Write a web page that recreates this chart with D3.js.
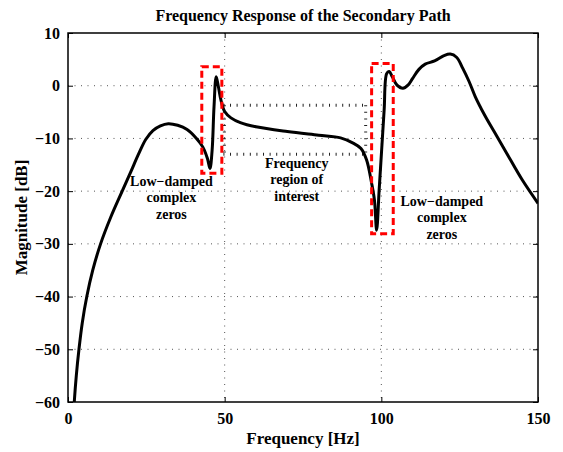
<!DOCTYPE html>
<html>
<head>
<meta charset="utf-8">
<script src="https://cdn.jsdelivr.net/npm/d3@7"></script>
<style>
  body { margin: 0; background: #fff; }
  text { font-family: "Liberation Serif", "Times New Roman", serif; font-weight: bold; fill: #000; }
</style>
</head>
<body>
<div id="chart-area"></div>
<script>
// frequency response (Hz, dB)
const freqs = [1.8, 2.0, 2.65, 3.5, 4.55, 6.0, 7.9, 10.4, 13.6, 17.3, 20, 22.5, 24.8, 27.1, 29.5, 32, 35, 38, 41, 43, 44.5,
  45.3, 46, 46.6, 47.3, 48, 48.8, 50, 52, 55, 60, 70, 80, 87, 91, 93.5, 95.3, 96.9, 97.8, 98.5, 99.3,
  100.1, 100.9, 101.7, 102.5, 103.5, 105, 106.9, 108.5, 110, 112, 114, 117, 120, 122, 124, 126, 128,
  130, 133, 136, 140, 145, 150]
const mags = [-62, -60, -55, -50, -45, -40, -35, -30, -25, -20, -16.4, -13, -10.2, -8.5, -7.6, -7.2, -7.5, -8.3, -10, -11.6, -13.8,
  -15.7, -12.2, -4, 1.7, -0.2, -2.7, -4.9, -6.1, -7.0, -7.8, -8.7, -9.4, -9.9, -10.9, -11.9, -14.1, -18.5, -21.7, -27.4, -19.8,
  -12.2, -4.6, 2.3, 2.7, 1.7, 0.1, -0.5, 0.1, 1.4, 3.1, 4.1, 4.7, 5.7, 6.0, 5.4, 3.3, 0.8,
  -2.1, -5.6, -8.7, -12.8, -17.9, -22.3]

const xTicks = [0, 50, 100, 150]
const yTicks = [10, 0, -10, -20, -30, -40, -50, -60]

// annotations in data units
const zeroBoxes = [
  { f0: 42.7, f1: 49.1, m0: -16.6, m1: 3.6 },
  { f0: 96.9, f1: 103.8, m0: -28.1, m1: 4.2 }
]
const regionBand = { f0: 49.6, f1: 95, m0: -13, m1: -3.7 }
const labels = [
  { f: 33, m: -19, lines: ["Low\u2212damped", "complex", "zeros"] },
  { f: 73, m: -15.6, lines: ["Frequency", "region of", "interest"] },
  { f: 119.3, m: -22.8, lines: ["Low\u2212damped", "complex", "zeros"] }
]

const MARGIN = { LEFT: 68, RIGHT: 25, TOP: 33, BOTTOM: 50 }
const WIDTH = 563 - MARGIN.LEFT - MARGIN.RIGHT
const HEIGHT = 452 - MARGIN.TOP - MARGIN.BOTTOM

const svg = d3.select("#chart-area").append("svg")
  .attr("width", 563)
  .attr("height", 452)

const g = svg.append("g")
  .attr("transform", `translate(${MARGIN.LEFT}, ${MARGIN.TOP})`)

const x = d3.scaleLinear().domain([0, 150]).range([0, WIDTH])
const y = d3.scaleLinear().domain([-60, 10]).range([HEIGHT, 0])

g.append("clipPath").attr("id", "clip")
  .append("rect").attr("width", WIDTH).attr("height", HEIGHT)

// dotted grid
const grid = g.append("g")
  .attr("stroke", "#555")
  .attr("stroke-width", 1)
  .attr("stroke-dasharray", "1,5.5")
grid.selectAll(".gx").data(xTicks.slice(1, -1)).join("line")
  .attr("x1", d => x(d)).attr("x2", d => x(d))
  .attr("y1", 0).attr("y2", HEIGHT)
grid.selectAll(".gy").data(yTicks.slice(1, -1)).join("line")
  .attr("y1", d => y(d)).attr("y2", d => y(d))
  .attr("x1", 0).attr("x2", WIDTH)

// axes, ticks inside like matlab
const xAxisCall = d3.axisBottom(x).tickValues(xTicks).tickSizeInner(-5).tickSizeOuter(0).tickPadding(10)
const yAxisCall = d3.axisLeft(y).tickValues(yTicks).tickSizeInner(-5).tickSizeOuter(0).tickPadding(8)
  .tickFormat(d => d < 0 ? "\u2212" + Math.abs(d) : d)

const xAxis = g.append("g").attr("transform", `translate(0, ${HEIGHT})`).call(xAxisCall)
const yAxis = g.append("g").call(yAxisCall)
g.append("g").attr("transform", `translate(${WIDTH}, 0)`)
  .call(d3.axisRight(y).tickValues(yTicks).tickSizeInner(-5).tickSizeOuter(0).tickFormat(""))
g.append("g")
  .call(d3.axisTop(x).tickValues(xTicks).tickSizeInner(-5).tickSizeOuter(0).tickFormat(""))

g.selectAll(".domain").remove()
g.selectAll(".tick line").attr("stroke", "#000")
g.selectAll(".tick text").style("font-size", "16px")
xAxis.selectAll(".tick text").attr("dy", "0.75em")

g.append("rect")
  .attr("width", WIDTH).attr("height", HEIGHT)
  .attr("fill", "none").attr("stroke", "#000").attr("stroke-width", 1.5)

// frequency region band (dotted)
const band = g.append("g")
  .attr("stroke", "#222")
  .attr("stroke-width", 3)
  .attr("stroke-dasharray", "1,5.6")
band.selectAll(".h").data([regionBand.m0, regionBand.m1]).join("line")
  .attr("x1", x(regionBand.f0)).attr("x2", x(regionBand.f1))
  .attr("y1", d => y(d)).attr("y2", d => y(d))
band.selectAll(".v").data([regionBand.f0 + 0.3, regionBand.f1]).join("line")
  .attr("x1", d => x(d)).attr("x2", d => x(d))
  .attr("y1", y(regionBand.m1)).attr("y2", y(regionBand.m0))

// line path generator
const line = d3.line()
  .x((d, i) => x(freqs[i]))
  .y(d => y(d))
  .curve(d3.curveCatmullRom.alpha(0.5))

g.append("path")
  .attr("clip-path", "url(#clip)")
  .attr("fill", "none")
  .attr("stroke", "#000")
  .attr("stroke-width", 3)
  .attr("stroke-linejoin", "round")
  .attr("d", line(mags))

// red dashed boxes round the low-damped zeros
g.selectAll(".zbox").data(zeroBoxes).join("rect")
  .attr("x", d => x(d.f0)).attr("y", d => y(d.m1))
  .attr("width", d => x(d.f1) - x(d.f0))
  .attr("height", d => y(d.m0) - y(d.m1))
  .attr("fill", "none")
  .attr("stroke", "#ff0000")
  .attr("stroke-width", 3)
  .attr("stroke-dasharray", "7,4")

// annotation text
labels.forEach(l => {
  const t = g.append("text")
    .attr("text-anchor", "middle")
    .style("font-size", "14px")
  l.lines.forEach((s, i) => {
    t.append("tspan")
      .attr("x", x(l.f))
      .attr("y", y(l.m) + i * 16.5)
      .text(s)
  })
})

// title and axis labels
svg.append("text")
  .attr("x", MARGIN.LEFT + WIDTH / 2).attr("y", 21)
  .attr("text-anchor", "middle")
  .style("font-size", "16px")
  .text("Frequency Response of the Secondary Path")

svg.append("text")
  .attr("x", MARGIN.LEFT + WIDTH / 2).attr("y", 444)
  .attr("text-anchor", "middle")
  .style("font-size", "17px")
  .text("Frequency [Hz]")

svg.append("text")
  .attr("transform", `translate(27, ${MARGIN.TOP + HEIGHT / 2}) rotate(-90)`)
  .attr("text-anchor", "middle")
  .style("font-size", "17px")
  .text("Magnitude [dB]")
</script>
</body>
</html>
